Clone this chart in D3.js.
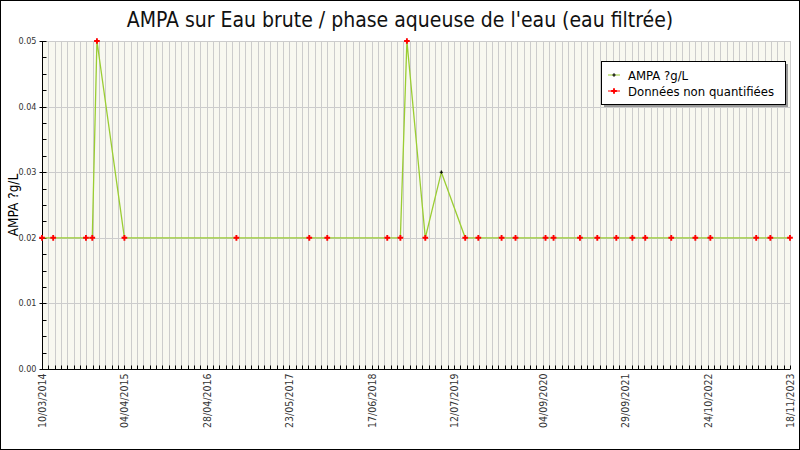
<!DOCTYPE html>
<html>
<head>
<meta charset="utf-8">
<script src="https://cdn.jsdelivr.net/npm/d3@7"></script>
<style>
  body { margin: 0; background: #fff; }
  text { font-family: "DejaVu Sans Condensed", "DejaVu Sans", sans-serif; font-stretch: condensed; }
</style>
</head>
<body>
<div id="chart"></div>
<script>
// sample dates and AMPA values (µg/L)
const sampleDates = ["10/03/2014", "02/05/2014", "04/10/2014", "03/11/2014", "25/11/2014", "04/04/2015",
  "15/09/2016", "26/08/2017", "19/11/2017", "30/08/2018", "31/10/2018", "01/12/2018", "26/02/2019",
  "13/05/2019", "03/09/2019", "04/11/2019", "22/02/2020", "28/04/2020", "17/09/2020", "25/10/2020",
  "27/02/2021", "20/05/2021", "18/08/2021", "02/11/2021", "02/01/2022", "05/05/2022", "27/08/2022",
  "06/11/2022", "11/06/2023", "17/08/2023", "18/11/2023"];
const ampaValues = [0.02, 0.02, 0.02, 0.02, 0.05, 0.02,
  0.02, 0.02, 0.02, 0.02, 0.02, 0.05, 0.02,
  0.03, 0.02, 0.02, 0.02, 0.02, 0.02, 0.02,
  0.02, 0.02, 0.02, 0.02, 0.02, 0.02, 0.02,
  0.02, 0.02, 0.02, 0.02];
// true = "Données non quantifiées"
const nonQuantified = [true, true, true, true, true, true,
  true, true, true, true, true, true, true,
  false, true, true, true, true, true, true,
  true, true, true, true, true, true, true,
  true, true, true, true];

const xTickLabels = ["10/03/2014", "04/04/2015", "28/04/2016", "23/05/2017", "17/06/2018",
  "12/07/2019", "04/09/2020", "29/09/2021", "24/10/2022", "18/11/2023"];
const yTicks = [0.00, 0.01, 0.02, 0.03, 0.04, 0.05];
const minorStepDays = 30;

const title = "AMPA sur Eau brute / phase aqueuse de l'eau (eau filtrée)";
const seriesName = "AMPA ?g/L";
const nqName = "Données non quantifiées";

const width = 800, height = 450;
const margin = {top: 41, right: 10, bottom: 81, left: 42};

const parse = d3.utcParse("%d/%m/%Y");
const data = sampleDates.map((d, i) => ({date: parse(d), value: ampaValues[i], nq: nonQuantified[i]}));

let svg = d3.select("#chart").append("svg")
    .attr("width", width)
    .attr("height", height);

// outer frame
svg.append("rect")
    .attr("x", 0.5).attr("y", 0.5)
    .attr("width", width - 1).attr("height", height - 1)
    .attr("fill", "#fff").attr("stroke", "#000");

let x = d3.scaleUtc()
    .domain([parse(xTickLabels[0]), parse(xTickLabels[xTickLabels.length - 1])])
    .range([margin.left, width - margin.right]);

let y = d3.scaleLinear()
    .domain([0, 0.05])
    .range([height - margin.bottom, margin.top]);

// plot background
svg.append("rect")
    .attr("x", x.range()[0]).attr("y", y(0.05))
    .attr("width", x.range()[1] - x.range()[0])
    .attr("height", y(0) - y(0.05))
    .attr("fill", "#f8f8f0");

// minor ticks every 30 days from the first date
let start = x.domain()[0], end = x.domain()[1];
let minorTicks = [];
for (let t = start; t <= end; t = d3.utcDay.offset(t, minorStepDays)) minorTicks.push(t);

svg.append("g").selectAll("line").data(minorTicks).join("line")
    .attr("x1", d => Math.round(x(d)) + 0.5).attr("x2", d => Math.round(x(d)) + 0.5)
    .attr("y1", y(0.05)).attr("y2", y(0))
    .attr("stroke", "#cccccc").attr("stroke-width", 1);

svg.append("g").selectAll("line").data(yTicks.slice(1)).join("line")
    .attr("x1", x.range()[0]).attr("x2", x.range()[1])
    .attr("y1", d => Math.round(y(d)) + 0.5).attr("y2", d => Math.round(y(d)) + 0.5)
    .attr("stroke", "#cccccc").attr("stroke-width", 1);

// y axis
let yAxis = svg.append("g").attr("transform", `translate(${margin.left + 0.5},0)`);
yAxis.append("line").attr("y1", y(0.05)).attr("y2", y(0)).attr("stroke", "#000");
let yMinor = d3.range(0, 0.05 + 1e-9, 0.0025);
yAxis.selectAll(".minor").data(yMinor).join("line")
    .attr("class", "minor")
    .attr("x1", 0).attr("x2", 4)
    .attr("y1", d => Math.round(y(d)) + 0.5).attr("y2", d => Math.round(y(d)) + 0.5)
    .attr("stroke", "#000");
yAxis.selectAll(".major").data(yTicks).join("line")
    .attr("class", "major")
    .attr("x1", -3).attr("x2", 0)
    .attr("y1", d => Math.round(y(d)) + 0.5).attr("y2", d => Math.round(y(d)) + 0.5)
    .attr("stroke", "#000");
yAxis.selectAll("text").data(yTicks).join("text")
    .attr("x", -6).attr("y", d => y(d) + 3)
    .attr("text-anchor", "end")
    .style("font-size", "9px").attr("fill", "#333")
    .text(d => d3.format(".2f")(d));

// x axis
let xAxis = svg.append("g").attr("transform", `translate(0,${Math.round(y(0)) + 0.5})`);
xAxis.append("line").attr("x1", x.range()[0]).attr("x2", x.range()[1]).attr("stroke", "#000");
xAxis.selectAll("line.tick").data(minorTicks).join("line")
    .attr("class", "tick")
    .attr("x1", d => Math.round(x(d)) + 0.5).attr("x2", d => Math.round(x(d)) + 0.5)
    .attr("y1", 0).attr("y2", -4)
    .attr("stroke", "#000");
xAxis.selectAll("text").data(xTickLabels).join("text")
    .attr("transform", d => `translate(${x(parse(d)) + 4},4) rotate(-90)`)
    .attr("text-anchor", "end")
    .style("font-size", "10.5px").attr("fill", "#333")
    .text(d => d);

// series line
let line = d3.line().x(d => x(d.date)).y(d => y(d.value));
svg.append("path").datum(data)
    .attr("d", line)
    .attr("fill", "none")
    .attr("stroke", "#9acd32")
    .attr("stroke-width", 1.3);

// quantified points (small black plus)
svg.append("g").selectAll("path").data(data.filter(d => !d.nq)).join("path")
    .attr("transform", d => `translate(${x(d.date)},${y(d.value)})`)
    .attr("d", d3.symbol(d3.symbolCross, 6))
    .attr("fill", "#000");

// non quantified (red cross)
svg.append("g").selectAll("path").data(data.filter(d => d.nq)).join("path")
    .attr("transform", d => `translate(${x(d.date)},${y(d.value)})`)
    .attr("d", d3.symbol(d3.symbolCross, 18))
    .attr("fill", "#ff0000");

// title
svg.append("text")
    .attr("x", width / 2).attr("y", 27)
    .attr("text-anchor", "middle")
    .style("font-size", "21px").attr("fill", "#111")
    .text(title);

// y label
svg.append("text")
    .attr("transform", `translate(18,${(y(0) + y(0.05)) / 2}) rotate(-90)`)
    .attr("text-anchor", "middle")
    .style("font-size", "13.5px")
    .text(seriesName);

// legend
let legend = svg.append("g").attr("transform", "translate(601,61)");
legend.append("rect").attr("x", 3).attr("y", 3).attr("width", 184).attr("height", 43).attr("fill", "#999");
legend.append("rect").attr("x", 0.5).attr("y", 0.5).attr("width", 184).attr("height", 43)
    .attr("fill", "#fff").attr("stroke", "#000");
let items = [{name: seriesName, color: "#9acd32", dot: "#000", size: 6},
             {name: nqName, color: "#ff0000", dot: "#ff0000", size: 18}];
let li = legend.selectAll("g.item").data(items).join("g")
    .attr("class", "item")
    .attr("transform", (d, i) => `translate(0,${14 + i * 16})`);
li.append("line").attr("x1", 7).attr("x2", 19).attr("stroke", d => d.color);
li.append("path").attr("transform", "translate(13,0)")
    .attr("d", d => d3.symbol(d3.symbolCross, d.size)())
    .attr("fill", d => d.dot);
li.append("text").attr("x", 27).attr("y", 4.5)
    .style("font-size", "13px").attr("fill", "#000")
    .text(d => d.name);
</script>
</body>
</html>
